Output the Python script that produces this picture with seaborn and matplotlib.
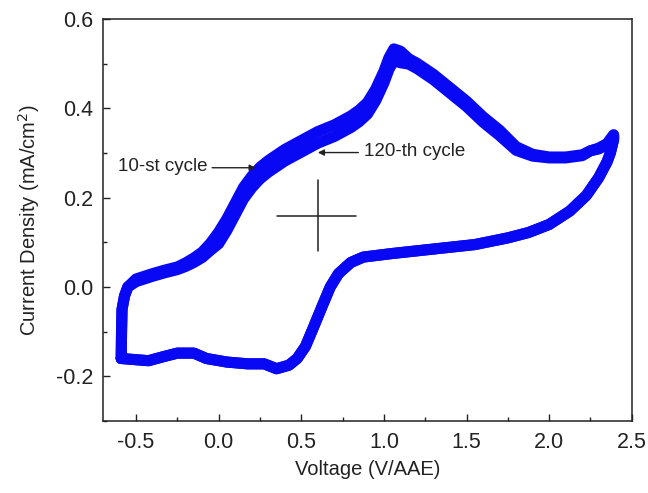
import numpy as np
import pandas as pd
import matplotlib
matplotlib.use("Agg")
import matplotlib.pyplot as plt
from matplotlib.ticker import MultipleLocator
import seaborn as sns

# ---- data ----
# forward (anodic) scan
fwd_v = [-0.59, -0.588, -0.585, -0.57, -0.55, -0.50, -0.45, -0.40, -0.325, -0.25,
         -0.20, -0.15, -0.10, -0.05, 0.00, 0.05, 0.10, 0.15, 0.20, 0.25,
         0.30, 0.40, 0.50, 0.60, 0.70, 0.80, 0.85, 0.90, 0.95, 1.00,
         1.03, 1.06, 1.10, 1.15, 1.20, 1.30, 1.40, 1.50, 1.60, 1.70,
         1.80, 1.90, 2.00, 2.10, 2.20, 2.25, 2.30, 2.35, 2.39]
fwd_j10 = [-0.16, -0.10, -0.05, -0.02, 0.0, 0.018, 0.024, 0.030, 0.038, 0.045,
           0.054, 0.065, 0.078, 0.098, 0.123, 0.153, 0.188, 0.223, 0.248, 0.268,
           0.283, 0.308, 0.328, 0.348, 0.363, 0.383, 0.396, 0.413, 0.443, 0.483,
           0.513, 0.533, 0.528, 0.511, 0.501, 0.476, 0.446, 0.416, 0.381, 0.351,
           0.314, 0.297, 0.291, 0.291, 0.296, 0.305, 0.311, 0.321, 0.341]
fwd_j120 = [-0.16, -0.10, -0.05, -0.02, 0.0, 0.012, 0.018, 0.024, 0.032, 0.039,
            0.046, 0.055, 0.066, 0.082, 0.097, 0.127, 0.162, 0.197, 0.222, 0.242,
            0.257, 0.282, 0.302, 0.322, 0.337, 0.357, 0.370, 0.387, 0.417, 0.457,
            0.487, 0.507, 0.502, 0.499, 0.489, 0.464, 0.434, 0.404, 0.369, 0.339,
            0.306, 0.293, 0.289, 0.289, 0.294, 0.305, 0.309, 0.319, 0.339]
# reverse (cathodic) scan
rev_v = [2.39, 2.37, 2.35, 2.30, 2.225, 2.125, 2.00, 1.875, 1.75, 1.55, 1.30, 1.05,
         0.875, 0.80, 0.725, 0.675, 0.625, 0.575, 0.525, 0.475, 0.425, 0.35, 0.275,
         0.175, 0.05, -0.075, -0.15, -0.25, -0.325, -0.425, -0.525, -0.59]
rev_j = [0.330, 0.300, 0.280, 0.245, 0.205, 0.170, 0.140, 0.122, 0.110, 0.095, 0.085, 0.075,
         0.067, 0.055, 0.030, 0.000, -0.044, -0.089, -0.133, -0.160, -0.175, -0.183, -0.172,
         -0.172, -0.168, -0.160, -0.148, -0.148, -0.155, -0.165, -0.162, -0.160]

cycles = ["10-st cycle", "120-th cycle"]
xticks = [-0.5, 0.0, 0.5, 1.0, 1.5, 2.0, 2.5]
yticks = [-0.2, 0.0, 0.2, 0.4, 0.6]
# annotation anchors (arrow tip, arrow tail, text position)
ann10 = dict(tip=(0.224, 0.267), tail=(-0.04, 0.267), text=(-0.065, 0.269))
ann120 = dict(tip=(0.60, 0.301), tail=(0.845, 0.301), text=(0.879, 0.303))
# cursor crosshair
cross_center = (0.60, 0.16)
cross_h = [0.35, 0.83]
cross_v = [0.08, 0.24]

rows = []
for name, fj in zip(cycles, [fwd_j10, fwd_j120]):
    order = 0
    for v, j in zip(fwd_v, fj):
        rows.append((name, order, v, j)); order += 1
    for v, j in zip(rev_v, rev_j):
        rows.append((name, order, v, j)); order += 1
df = pd.DataFrame(rows, columns=["cycle", "order", "V", "J"])

sns.set_style("ticks")
plt.rcParams["font.family"] = ["Liberation Sans", "DejaVu Sans"]
ink = "#222222"

fig, ax = plt.subplots(figsize=(6.48, 4.93), dpi=100)
fig.subplots_adjust(left=0.159, right=0.975, top=0.9615, bottom=0.146)

blue = "#0808f4"
sns.lineplot(data=df, x="V", y="J", units="cycle", estimator=None, sort=False,
             color=blue, linewidth=8, ax=ax)

ax.plot(cross_h, [cross_center[1]] * 2, color=ink, lw=1.1)
ax.plot([cross_center[0]] * 2, cross_v, color=ink, lw=1.1)

for a, label, ha in [(ann10, "10-st cycle", "right"), (ann120, "120-th cycle", "left")]:
    ax.annotate("", xy=a["tip"], xytext=a["tail"],
                arrowprops=dict(arrowstyle="-|>", color=ink, lw=1, mutation_scale=9,
                                shrinkA=0, shrinkB=0))
    ax.text(a["text"][0], a["text"][1], label, ha=ha, va="center", fontsize=13.5, color=ink)

ax.set_xlim(-0.7, 2.5)
ax.set_ylim(-0.3, 0.6)
ax.set_xticks(xticks)
ax.set_yticks(yticks)
ax.set_xticklabels([f"{t:.1f}" for t in xticks])
ax.set_yticklabels([f"{t:.1f}" for t in yticks])
ax.xaxis.set_minor_locator(MultipleLocator(0.25))
ax.yaxis.set_minor_locator(MultipleLocator(0.1))
ax.tick_params(which="both", direction="in", top=False, right=False, colors=ink,
               labelsize=15.5, width=1)
ax.tick_params(axis="x", which="major", pad=8)
ax.tick_params(axis="y", which="major", pad=7)
ax.tick_params(which="major", length=5)
ax.tick_params(which="minor", length=3)
for s in ax.spines.values():
    s.set_visible(True)
    s.set_color(ink)
    s.set_linewidth(1.1)
ax.set_xlabel("Voltage (V/AAE)", fontsize=14.5, color=ink, labelpad=5)
ax.set_ylabel("Current Density (mA/cm$^2$)", fontsize=14.5, color=ink, labelpad=10)

fig.savefig("out.png", dpi=100)
